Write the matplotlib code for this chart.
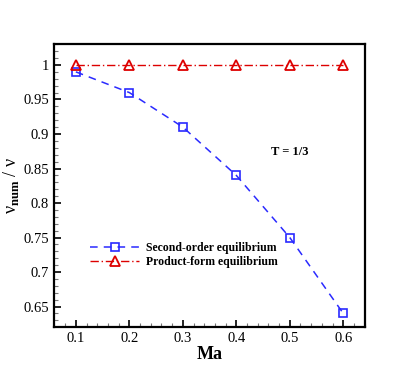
import matplotlib
matplotlib.use("Agg")
import matplotlib.pyplot as plt
from matplotlib.ticker import MultipleLocator

plt.rcParams['font.family'] = ['Liberation Serif', 'DejaVu Serif']
plt.rcParams['mathtext.fontset'] = 'custom'
plt.rcParams['mathtext.rm'] = 'Liberation Serif'
plt.rcParams['mathtext.bf'] = 'Liberation Serif:bold'

ma = [0.1, 0.2, 0.3, 0.4, 0.5, 0.6]
second_order = [0.99, 0.96, 0.91, 0.84, 0.75, 0.64]
product_form = [1.0, 1.0, 1.0, 1.0, 1.0, 1.0]

fig = plt.figure(figsize=(4.15, 3.69), dpi=100)
ax = fig.add_axes([0.130, 0.114, 0.750, 0.767])

ax.plot(ma, second_order, color='#2a2aff', ls=(0, (5, 4)), lw=1.1,
        marker='s', ms=5.8, mfc='none', mec='#2a2aff', mew=1.2,
        label='Second-order equilibrium')
ax.plot(ma, product_form, color='#dd0000', ls=(0, (6, 2, 1, 2)), lw=1.0,
        marker='^', ms=6.5, mfc='none', mec='#dd0000', mew=1.3,
        label='Product-form equilibrium')

ax.set_xlim(0.059, 0.641)
ax.set_ylim(0.6205, 1.0305)
ax.xaxis.set_major_locator(MultipleLocator(0.1))
ax.xaxis.set_minor_locator(MultipleLocator(0.02))
ax.yaxis.set_major_locator(MultipleLocator(0.05))
ax.yaxis.set_minor_locator(MultipleLocator(0.01))
ax.yaxis.set_major_formatter(plt.FuncFormatter(lambda v, p: ('%.2f' % v).rstrip('0').rstrip('.')))
ax.xaxis.set_major_formatter(plt.FuncFormatter(lambda v, p: '%.1f' % v))

ax.tick_params(which='both', direction='in', top=False, right=False, labelsize=10.5)
ax.tick_params(which='major', length=5, width=1.2)
ax.tick_params(which='minor', length=3, width=0.8, color='#777777')
for s in ax.spines.values():
    s.set_linewidth(1.6)

ax.set_xlabel('Ma', fontsize=13, fontweight='bold', labelpad=1)
ax.set_ylabel(r'ν$_{\mathbf{num}}$ / ν', fontsize=13, labelpad=2)

ax.text(0.5, 0.874, 'T = 1/3', fontsize=9, fontweight='bold', ha='center', va='center')

ax.legend(loc='upper left', bbox_to_anchor=(0.096, 0.32), frameon=False,
          prop={'weight': 'bold', 'size': 8.5}, handlelength=4.2,
          handletextpad=0.6, labelspacing=0.15, borderpad=0)

fig.savefig('out.png', dpi=100)
